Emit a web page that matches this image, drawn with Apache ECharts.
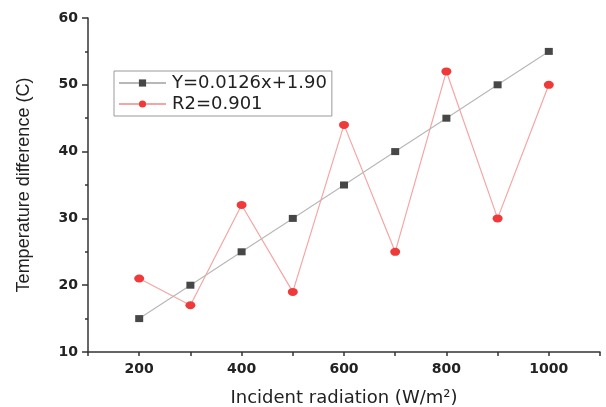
<!DOCTYPE html>
<html>
<head>
<meta charset="utf-8">
<script src="https://cdn.jsdelivr.net/npm/echarts@6/dist/echarts.min.js"></script>
<style>
html,body{margin:0;padding:0;background:#fff;}
#chart{width:606px;height:407px;}
</style>
</head>
<body>
<div id="chart"></div>
<script>
const radiation = [200, 300, 400, 500, 600, 700, 800, 900, 1000];
const fitValues = [15, 20, 25, 30, 35, 40, 45, 50, 55];
const measuredValues = [21, 17, 32, 19, 44, 25, 52, 30, 50];
const seriesNames = ['Y=0.0126x+1.90', 'R2=0.901'];
const xTickLabels = [200, 400, 600, 800, 1000];

const chart = echarts.init(document.getElementById('chart'), null, {renderer: 'canvas'});
const option = {
  backgroundColor: '#ffffff',
  animation: false,
  grid: {left: 88, right: 6, top: 18, bottom: 55, containLabel: false, outerBoundsMode: 'none'},
  legend: {
    orient: 'vertical',
    left: 114,
    top: 71,
    padding: [3, 5, 3, 4],
    itemWidth: 47,
    itemHeight: 9,
    itemGap: 3,
    borderColor: '#9a9a9a',
    borderWidth: 1,
    textStyle: {fontFamily: 'DejaVu Sans', fontSize: 18, color: '#222', padding: [0, 0, 0, 1]},
    data: seriesNames
  },
  xAxis: {
    type: 'value',
    min: 100,
    max: 1100,
    interval: 100,
    name: 'Incident radiation (W/m²)',
    nameLocation: 'middle',
    nameGap: 37,
    nameTextStyle: {fontFamily: 'DejaVu Sans', fontSize: 18, color: '#222'},
    axisLine: {show: true, onZero: false, lineStyle: {color: '#333', width: 1.5}},
    axisTick: {show: true, length: 4, lineStyle: {color: '#333', width: 1.5}},
    axisLabel: {
      margin: 10,
      fontFamily: 'DejaVu Sans', fontWeight: 'bold', fontSize: 14, color: '#222',
      formatter: function (v) { return xTickLabels.indexOf(v) >= 0 ? String(v) : ''; }
    },
    splitLine: {show: false}
  },
  yAxis: {
    type: 'value',
    min: 10,
    max: 60,
    interval: 10,
    name: 'Temperature difference (C)',
    nameLocation: 'middle',
    nameGap: 55,
    nameTextStyle: {fontFamily: 'Liberation Sans', fontSize: 18, color: '#222'},
    axisLine: {show: true, onZero: false, lineStyle: {color: '#333', width: 1.5}},
    axisTick: {show: true, length: 6, lineStyle: {color: '#333', width: 1.5}},
    minorTick: {show: true, splitNumber: 2, length: 3, lineStyle: {color: '#333', width: 1.5}},
    axisLabel: {margin: 10, fontFamily: 'DejaVu Sans', fontWeight: 'bold', fontSize: 14, color: '#222'},
    splitLine: {show: false}
  },
  series: [
    {
      name: seriesNames[0],
      type: 'line',
      data: radiation.map((x, i) => [x, fitValues[i]]),
      symbol: 'rect',
      symbolSize: [8, 7],
      itemStyle: {color: '#474747'},
      lineStyle: {color: '#b8b8b8', width: 1.2},
      z: 3
    },
    {
      name: seriesNames[1],
      type: 'line',
      data: radiation.map((x, i) => [x, measuredValues[i]]),
      symbol: 'circle',
      symbolSize: [10, 8],
      itemStyle: {color: '#f03a3a'},
      lineStyle: {color: '#f5a5a5', width: 1.2},
      z: 2
    }
  ]
};
chart.setOption(option);
</script>
</body>
</html>
